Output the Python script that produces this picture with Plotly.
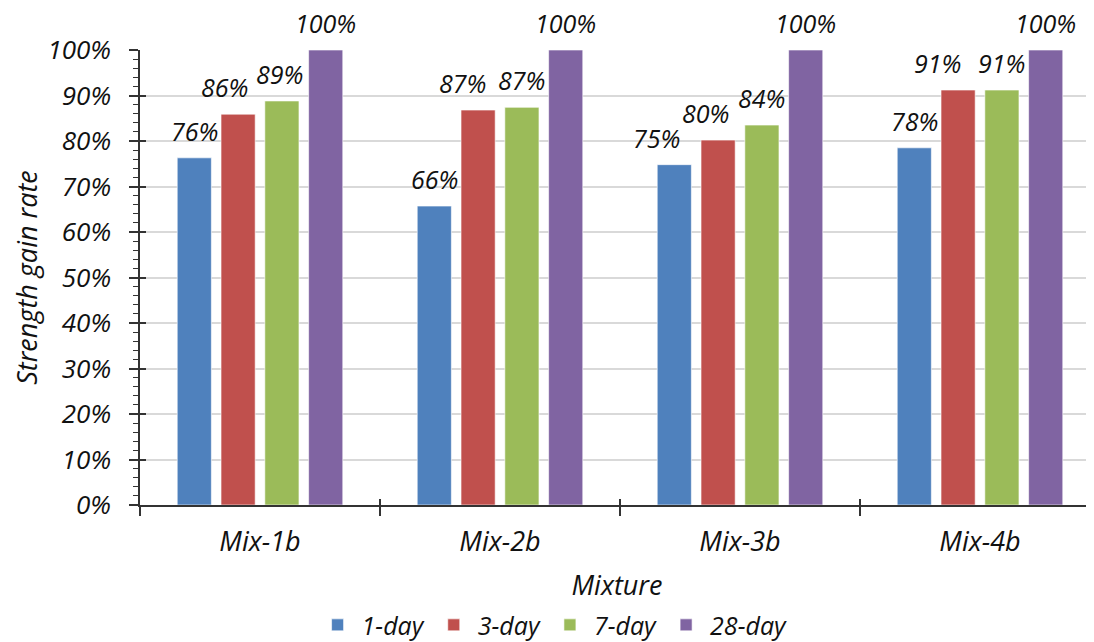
import plotly.graph_objects as go

categories = ["Mix-1b", "Mix-2b", "Mix-3b", "Mix-4b"]
series_names = ["1-day", "3-day", "7-day", "28-day"]
day1 = [0.763, 0.657, 0.748, 0.785]
day3 = [0.859, 0.868, 0.802, 0.912]
day7 = [0.888, 0.874, 0.835, 0.912]
day28 = [1.0, 1.0, 1.0, 1.0]
colors = ["#4F81BD", "#C0504D", "#9BBB59", "#8064A2"]
y_ticks = [i / 10 for i in range(11)]
y_tick_text = [f"{i*10}%" for i in range(11)]

FONT = "Open Sans"
BAR_GAP = 0.27
GROUP_GAP = 0.22

# page body has an 8px margin: figure drawn at (8,8)
W, H = 1086, 634
ML, MT, MB, MR = 132, 42, 137, 0
plot_w = W - ML - MR
x_range = [-0.5, 3.475]
px_per_cat = plot_w / (x_range[1] - x_range[0])
slot = px_per_cat * (1 - BAR_GAP) / 4

fig = go.Figure()
all_series = [day1, day3, day7, day28]
for name, vals, col in zip(series_names, all_series, colors):
    fig.add_trace(go.Bar(
        x=categories, y=vals, name=name,
        marker=dict(color=col, line=dict(color="rgba(255,255,255,0.6)", width=1)),
    ))

# value labels above bars (some labels in the original sit a little left of their bar)
nudge = {(0, 1): -14, (0, 2): -2, (1, 1): -16, (2, 0): -18, (2, 1): -13, (3, 1): -21}
for si, vals in enumerate(all_series):
    for ci, v in enumerate(vals):
        fig.add_annotation(
            x=categories[ci], y=v, xref="x", yref="y",
            text=f"{round(v*100):d}%", showarrow=False,
            xanchor="center", yanchor="bottom", borderpad=0,
            height=26, valign="middle",
            xshift=(si - 1.5) * slot + nudge.get((ci, si), 0), yshift=13,
            font=dict(family=FONT, size=25, color="#111", style="italic"),
        )

# invisible helper trace for inside ticks on overlay axes
fig.add_trace(go.Scatter(x=categories, y=day1, xaxis="x2", yaxis="y2",
                         mode="none", showlegend=False, hoverinfo="skip"))

fig.update_layout(
    width=W, height=H,
    margin=dict(l=ML, r=MR, t=MT, b=MB, autoexpand=False),
    paper_bgcolor="white", plot_bgcolor="white",
    barmode="group", bargap=BAR_GAP, bargroupgap=GROUP_GAP,
    font=dict(family=FONT, color="#111"),
    xaxis=dict(
        type="category", range=x_range, automargin=False,
        showline=True, linecolor="#333", linewidth=1.5,
        ticks="outside", tickson="boundaries", ticklen=9, tickcolor="#333", tickwidth=1.5,
        ticklabelstandoff=12,
        tickfont=dict(family=FONT, size=27, style="italic"),
        title=dict(text="Mixture", font=dict(family=FONT, size=27, style="italic"), standoff=18),
        showgrid=False,
    ),
    yaxis=dict(
        range=[0, 1], tickvals=y_ticks, ticktext=y_tick_text, automargin=False,
        showline=True, linecolor="#333", linewidth=1.5,
        ticks="outside", ticklen=9, tickcolor="#333", tickwidth=1.5,
        ticklabelstandoff=13,
        minor=dict(dtick=0.02, ticks="outside", ticklen=5, tickcolor="#333", tickwidth=1, showgrid=False),
        showgrid=True, gridcolor="#D9D9D9", gridwidth=1.5,
        tickfont=dict(family=FONT, size=26, style="italic"),
        title=dict(text="Strength gain rate", font=dict(family=FONT, size=27, style="italic"), standoff=10),
        zeroline=False,
    ),
    xaxis2=dict(
        type="category", range=x_range, overlaying="x",
        ticks="inside", tickson="boundaries", ticklen=6, tickcolor="#333", tickwidth=1.5,
        showticklabels=False, showgrid=False, showline=False,
    ),
    yaxis2=dict(
        range=[0, 1], tickvals=y_ticks, overlaying="y",
        ticks="inside", ticklen=6, tickcolor="#333", tickwidth=1.5,
        showticklabels=False, showgrid=False, showline=False, zeroline=False,
    ),
    legend=dict(
        orientation="h", x=0.433, xanchor="center", y=-0.264, yanchor="middle",
        font=dict(family=FONT, size=25, style="italic"),
        itemwidth=38, traceorder="normal",
    ),
)

fig.write_html("out.html")
